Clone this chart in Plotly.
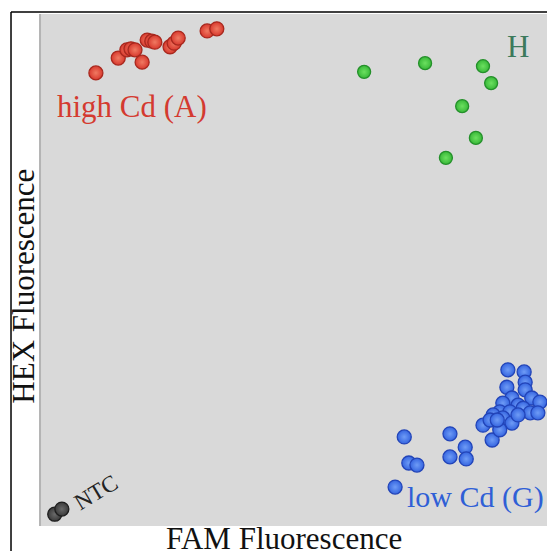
import plotly.graph_objects as go

# Normalised FAM (x) and HEX (y) fluorescence
red_x = [0.112, 0.156, 0.173, 0.181, 0.189, 0.203, 0.213, 0.222, 0.228, 0.258, 0.266, 0.274, 0.331, 0.350]
red_y = [0.885, 0.914, 0.930, 0.932, 0.930, 0.906, 0.949, 0.947, 0.945, 0.936, 0.943, 0.953, 0.967, 0.971]

green_x = [0.640, 0.760, 0.874, 0.890, 0.833, 0.860, 0.801]
green_y = [0.887, 0.904, 0.898, 0.865, 0.820, 0.758, 0.719]

blue_x = [0.719, 0.728, 0.744, 0.701, 0.809, 0.839, 0.809, 0.841, 0.892, 0.874,
          0.923, 0.955, 0.957, 0.921, 0.957, 0.970, 0.986, 0.931, 0.913, 0.943,
          0.953, 0.967, 0.982, 0.907, 0.894, 0.927, 0.913, 0.931, 0.888, 0.907,
          0.902, 0.943]
blue_y = [0.174, 0.123, 0.119, 0.076, 0.180, 0.154, 0.135, 0.131, 0.168, 0.197,
          0.305, 0.301, 0.281, 0.271, 0.266, 0.250, 0.242, 0.250, 0.240, 0.236,
          0.230, 0.221, 0.221, 0.223, 0.217, 0.223, 0.211, 0.201, 0.207, 0.188,
          0.207, 0.217]

ntc_x = [0.031, 0.045]
ntc_y = [0.023, 0.033]

SERIF = "Liberation Serif, Times New Roman, serif"


def cluster(x, y, col, center, edge, size=14):
    return go.Scatter(
        x=x, y=y, mode="markers", hoverinfo="skip", showlegend=False,
        marker=dict(size=size, color=col,
                    gradient=dict(type="radial", color=center),
                    line=dict(color=edge, width=1.3)),
    )


fig = go.Figure()
fig.add_trace(cluster(red_x, red_y, "#d8392e", "#f07a62", "#a8281e"))
fig.add_trace(cluster(green_x, green_y, "#38b838", "#6ce060", "#24902a", size=13))
fig.add_trace(cluster(blue_x, blue_y, "#3565e0", "#6f9cf6", "#2244b8"))
fig.add_trace(cluster(ntc_x, ntc_y, "#3a3a3a", "#6a6a6a", "#1e1e1e"))

ann = [
    dict(text="high Cd (A)", x=0.031, y=0.820, xanchor="left", yanchor="middle",
         font=dict(family=SERIF, size=31, color="#d43a30")),
    dict(text="H", x=0.943, y=0.936, xanchor="center", yanchor="middle",
         font=dict(family=SERIF, size=31, color="#3c7a5c")),
    dict(text="low Cd (G)", x=0.720, y=0.057, xanchor="left", yanchor="middle",
         font=dict(family=SERIF, size=30, color="#2f5fd6")),
    dict(text="NTC", x=0.112, y=0.066, xanchor="center", yanchor="middle",
         textangle=-31, font=dict(family=SERIF, size=23, color="#222222")),
    dict(text="FAM Fluorescence", x=0.482, y=-0.024, xanchor="center", yanchor="middle",
         font=dict(family=SERIF, size=31, color="#111111")),
    dict(text="HEX Fluorescence", x=-0.030, y=0.469, xanchor="center", yanchor="middle",
         textangle=-90, font=dict(family=SERIF, size=31, color="#111111")),
]
for a in ann:
    a.update(xref="paper", yref="paper", showarrow=False)

fig.update_layout(
    width=547, height=551,
    margin=dict(l=39, r=0, t=14, b=25),
    paper_bgcolor="white",
    plot_bgcolor="#d9d9d9",
    annotations=ann,
    xaxis=dict(range=[0, 1], showgrid=False, zeroline=False, showticklabels=False,
               ticks="", showline=False, fixedrange=True),
    yaxis=dict(range=[0, 1], showgrid=False, zeroline=False, showticklabels=False,
               ticks="", showline=False, fixedrange=True),
    shapes=[
        dict(type="line", xref="paper", yref="paper", x0=0.002, x1=0.002, y0=0, y1=1,
             line=dict(color="#b4b4b4", width=2)),
        dict(type="line", xref="paper", yref="paper", x0=-0.0551, x1=1.1, y0=1.0039, y1=1.0039,
             line=dict(color="black", width=1.5)),
        dict(type="line", xref="paper", yref="paper", x0=-0.0551, x1=-0.0551, y0=1.0039, y1=-0.1,
             line=dict(color="black", width=1.5)),
    ],
)

fig.write_html(
    "out.html",
    config={"displayModeBar": False},
    post_script="document.body.style.margin='0';document.body.style.overflow='hidden';",
)
